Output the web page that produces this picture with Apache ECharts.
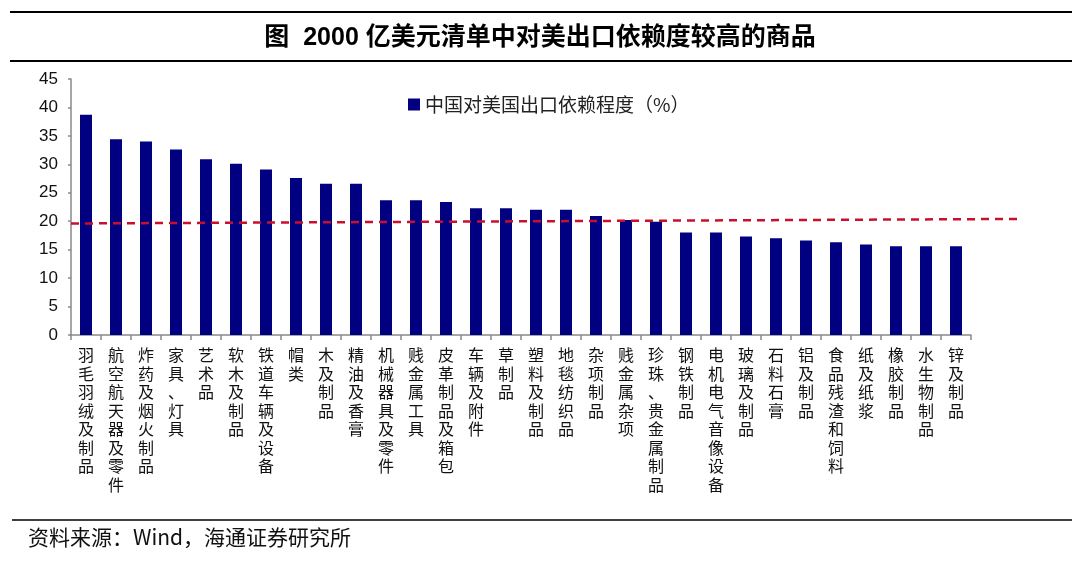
<!DOCTYPE html>
<html>
<head>
<meta charset="utf-8">
<script src="https://cdn.jsdelivr.net/npm/echarts@6/dist/echarts.min.js"></script>
<style>html,body{margin:0;padding:0;background:#fff;}#c{width:1080px;height:564px;}</style>
</head>
<body>
<div id="c"></div>
<script>
var categories = ['羽毛羽绒及制品','航空航天器及零件','炸药及烟火制品','家具、灯具','艺术品','软木及制品','铁道车辆及设备','帽类','木及制品','精油及香膏','机械器具及零件','贱金属工具','皮革制品及箱包','车辆及附件','草制品','塑料及制品','地毯纺织品','杂项制品','贱金属杂项','珍珠、贵金属制品','钢铁制品','电机电气音像设备','玻璃及制品','石料石膏','铝及制品','食品残渣和饲料','纸及纸浆','橡胶制品','水生物制品','锌及制品'];
var dependence = [38.7, 34.4, 34.0, 32.6, 30.9, 30.1, 29.1, 27.6, 26.6, 26.6, 23.7, 23.7, 23.4, 22.3, 22.3, 22.0, 22.0, 20.9, 20.2, 19.9, 18.0, 18.0, 17.3, 17.0, 16.6, 16.3, 15.9, 15.6, 15.6, 15.6];
var trendLine = [[0, 19.6], [1, 20.4]];
var yTicks = {min: 0, max: 45, interval: 5};
var seriesName = '中国对美国出口依赖程度（%）';
var titleText = '图  2000 亿美元清单中对美出口依赖度较高的商品';
var sourceText = '资料来源：Wind，海通证券研究所';

var chart = echarts.init(document.getElementById('c'), null, {renderer: 'canvas'});
var cjk = '"Noto Sans CJK SC", sans-serif';
var axisGray = '#898989';
chart.setOption({
  animation: false,
  backgroundColor: '#fff',
  title: {
    text: titleText,
    left: 'center',
    top: 21,
    textStyle: {fontFamily: '"Liberation Sans","Noto Sans CJK SC",sans-serif', fontWeight: 'bold', fontSize: 25, color: '#000'}
  },
  legend: {
    data: [seriesName],
    left: 403,
    top: 90,
    icon: 'rect',
    itemWidth: 12,
    itemHeight: 12,
    itemGap: 5,
    textStyle: {fontFamily: cjk, fontSize: 19, color: '#222'}
  },
  graphic: [
    {type: 'line', shape: {x1: 10, y1: 12, x2: 1072, y2: 12}, style: {stroke: '#000', lineWidth: 2}},
    {type: 'line', shape: {x1: 10, y1: 61, x2: 1072, y2: 61}, style: {stroke: '#000', lineWidth: 2}},
    {type: 'line', shape: {x1: 12, y1: 520, x2: 1072, y2: 520}, style: {stroke: '#000', lineWidth: 1.5}},
    {type: 'text', left: 28, top: 527, style: {text: sourceText, font: '21px ' + cjk, fill: '#111'}}
  ],
  grid: [
    {left: 71, right: 109, top: 79, bottom: 229, containLabel: false},
    {left: 71, right: 62, top: 79, bottom: 229, containLabel: false}
  ],
  xAxis: [
    {
      type: 'category', gridIndex: 0, data: categories,
      axisLine: {lineStyle: {color: axisGray, width: 1.5}},
      axisTick: {show: true, length: 5, alignWithLabel: false, lineStyle: {color: axisGray, width: 1.5}},
      axisLabel: {
        interval: 0, margin: 11, fontFamily: cjk, fontSize: 16, lineHeight: 18.5, color: '#111',
        verticalAlign: 'top',
        formatter: function (v) { return v.split('').join('\n'); }
      }
    },
    {type: 'value', gridIndex: 1, min: 0, max: 1, show: false}
  ],
  yAxis: [
    {
      type: 'value', gridIndex: 0, min: yTicks.min, max: yTicks.max, interval: yTicks.interval,
      splitLine: {show: false},
      axisLine: {show: true, lineStyle: {color: axisGray, width: 1.5}},
      axisTick: {show: true, length: 3, lineStyle: {color: axisGray, width: 1.5}},
      axisLabel: {margin: 13, fontFamily: '"Liberation Sans", Arial, sans-serif', fontSize: 17, color: '#111'}
    },
    {type: 'value', gridIndex: 1, min: yTicks.min, max: yTicks.max, show: false}
  ],
  series: [
    {
      name: seriesName, type: 'bar', xAxisIndex: 0, yAxisIndex: 0,
      data: dependence, barWidth: 12,
      itemStyle: {color: '#000080'}
    },
    {
      name: 'trend', type: 'line', xAxisIndex: 1, yAxisIndex: 1,
      data: trendLine, symbol: 'none', silent: true,
      lineStyle: {color: '#c8102e', width: 2.5, type: [8, 6]}
    }
  ]
});
</script>
</body>
</html>
